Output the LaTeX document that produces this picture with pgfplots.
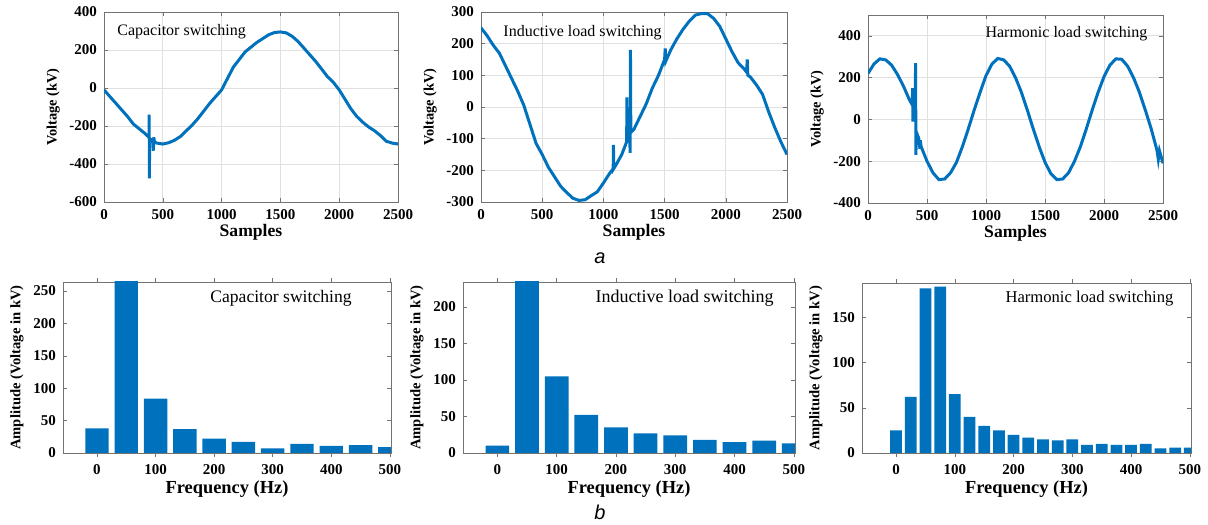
\documentclass[border=0pt]{standalone}
\usepackage{fontspec}
\setmainfont{Liberation Serif}
\newfontfamily\arial{Liberation Sans}
\usepackage{pgfplots}
\pgfplotsset{compat=1.18}
\definecolor{mblue}{HTML}{0072BD}

\tikzset{note/.style={font=\fontsize{8}{9}\selectfont, anchor=west, inner sep=0pt}}
\pgfplotsset{
  panel/.style={
    scale only axis, anchor=south west,
    axis line style={black!55}, tick style={black!55},
    tick align=inside, major tick length=2pt,
    scaled ticks=false,
    /pgf/number format/assume math mode=true,
    /pgf/number format/1000 sep={},
    tick label style={font=\fontsize{7.5}{8}\selectfont\bfseries},
    ylabel style={font=\fontsize{7.2}{8}\selectfont\bfseries, yshift=-2pt},
    clip=true,
  },
  wave/.style={panel, xmin=0, xmax=2500, xtick={0,500,...,2500},
    grid=major, major grid style={black!12},
    xlabel style={font=\fontsize{8.8}{9}\selectfont\bfseries, yshift=4.5pt},
    xlabel={Samples}, ylabel={Voltage (kV)}},
  spec/.style={panel, xmin=-58, xmax=502, xtick={0,100,...,500},
    ybar, ymin=0, xlabel={Frequency (Hz)},
    ylabel={Amplitude (Voltage in kV)},
    xlabel style={font=\fontsize{9.2}{10}\selectfont\bfseries, yshift=3.5pt},
    ylabel style={font=\fontsize{7.3}{8}\selectfont\bfseries}},
}

\begin{document}
\begin{tikzpicture}
\useasboundingbox (0,0) rectangle (604pt,262pt);

% --- a: time-domain waveforms ---
\begin{axis}[wave, at={(52pt,161pt)}, width=147pt, height=95pt,
  ymin=-600, ymax=400, ytick={-600,-400,...,400}]
\addplot[mblue, line width=1.5pt] coordinates {
(0,-10)(50,-45)(100,-80)(150,-115)(200,-150)(250,-190)(300,-215)(350,-240)
(383,-260)(384,-140)(386,-475)(388,-265)(400,-275)(415,-270)(420,-330)(423,-260)
(430,-285)(450,-290)(500,-295)(550,-288)(600,-275)(650,-255)(700,-225)(750,-195)
(800,-160)(850,-120)(900,-80)(950,-45)(1000,-10)(1050,50)(1100,110)(1150,150)
(1200,190)(1250,215)(1300,240)(1350,260)(1400,280)(1450,292)(1500,295)(1550,290)
(1600,272)(1650,245)(1700,210)(1750,175)(1800,140)(1850,100)(1900,60)(1950,30)
(2000,-10)(2050,-60)(2100,-110)(2150,-150)(2200,-180)(2250,-205)(2300,-225)
(2350,-250)(2400,-280)(2450,-290)(2500,-295)
};
\node[note] at (axis description cs:0.044,0.895) {Capacitor switching};
\end{axis}

\begin{axis}[wave, at={(240.5pt,161pt)}, width=153pt, height=95pt,
  ymin=-300, ymax=300, ytick={-300,-200,...,300}]
\addplot[mblue, line width=1.5pt] coordinates {
(0,250)(50,225)(100,195)(150,170)(200,130)(250,90)(300,50)(350,5)(400,-55)
(450,-115)(500,-150)(550,-190)(600,-220)(650,-250)(700,-270)(750,-288)(800,-295)
(850,-293)(900,-280)(950,-268)(1000,-240)(1050,-210)(1080,-195)(1082,-120)
(1084,-195)(1100,-185)(1150,-150)(1190,-110)(1192,30)(1195,-100)(1215,-80)
(1218,-145)(1221,180)(1224,-80)(1250,-70)(1300,-30)(1350,10)(1400,60)(1450,100)
(1500,150)(1505,185)(1510,145)(1550,180)(1600,215)(1650,245)(1700,270)(1750,290)
(1800,295)(1850,295)(1900,280)(1950,255)(2000,215)(2050,175)(2100,140)(2150,120)
(2170,110)(2175,150)(2180,100)(2200,95)(2250,70)(2300,40)(2350,-15)(2400,-65)
(2450,-110)(2500,-150)
};
\node[note] at (axis description cs:0.072,0.89) {Inductive load switching};
\end{axis}

\begin{axis}[wave, at={(434pt,160.5pt)}, width=147.5pt, height=94pt,
  ymin=-400, ymax=500, ytick={-400,-200,...,400}]
\addplot[mblue, line width=1.5pt] coordinates {
(0,220)(50,265)(100,290)(150,285)(200,260)(250,215)(300,160)(350,95)(375,70)
(378,150)(381,-10)(384,60)(400,20)(403,270)(406,-170)(409,-60)(430,-90)(440,-140)
(443,-100)(450,-130)(500,-200)(550,-255)(600,-288)(650,-285)(700,-255)(750,-205)
(800,-130)(850,-45)(900,45)(950,130)(1000,210)(1050,265)(1100,292)(1150,285)
(1200,255)(1250,200)(1300,130)(1350,45)(1400,-45)(1450,-130)(1500,-205)
(1550,-260)(1600,-288)(1650,-285)(1700,-255)(1750,-200)(1800,-130)(1850,-45)
(1900,45)(1950,130)(2000,205)(2050,260)(2100,290)(2150,288)(2200,255)(2250,200)
(2300,130)(2350,45)(2400,-45)(2450,-150)(2460,-190)(2470,-150)(2500,-210)
};
\node[note] at (axis description cs:0.397,0.9) {Harmonic load switching};
\end{axis}

% --- b: spectra ---
\begin{axis}[spec, at={(31.5pt,35.5pt)}, width=164pt, height=85.5pt,
  ymax=264, ytick={0,50,...,250}]
\addplot[fill=mblue, draw=none, bar width=40] coordinates {
(0,38)(50,300)(100,84)(150,37)(200,22)(250,17)(300,7)(350,14)(400,11)(450,12)(500,9)
};
\node[note, font=\fontsize{8.8}{9}\selectfont] at (axis description cs:0.448,0.906) {Capacitor switching};
\end{axis}

\begin{axis}[spec, at={(231.5pt,35.5pt)}, width=166pt, height=85.5pt,
  ymax=234, ytick={0,50,...,200}]
\addplot[fill=mblue, draw=none, bar width=40] coordinates {
(0,10)(50,300)(100,105)(150,52)(200,35)(250,27)(300,24)(350,18)(400,15)(450,17)(500,13)
};
\node[note, font=\fontsize{9}{10}\selectfont] at (axis description cs:0.398,0.905) {Inductive load switching};
\end{axis}

\begin{axis}[spec, at={(431pt,35.5pt)}, width=164.5pt, height=85pt,
  ymax=188, ytick={0,50,...,150}]
\addplot[fill=mblue, draw=none, bar width=20] coordinates {
(0,25)(25,62)(50,182)(75,184)(100,65)(125,40)(150,30)(175,25)(200,20)(225,17)
(250,15)(275,14)(300,15)(325,9)(350,10)(375,9)(400,9)(425,10)(450,5)(475,6)(500,6)
};
\node[note, font=\fontsize{8.3}{9}\selectfont] at (axis description cs:0.435,0.906) {Harmonic load switching};
\end{axis}

\node[font=\arial\itshape\fontsize{10}{11}\selectfont] at (300pt,133pt) {a};
\node[font=\arial\itshape\fontsize{10}{11}\selectfont] at (300pt,6pt) {b};
\end{tikzpicture}
\end{document}
